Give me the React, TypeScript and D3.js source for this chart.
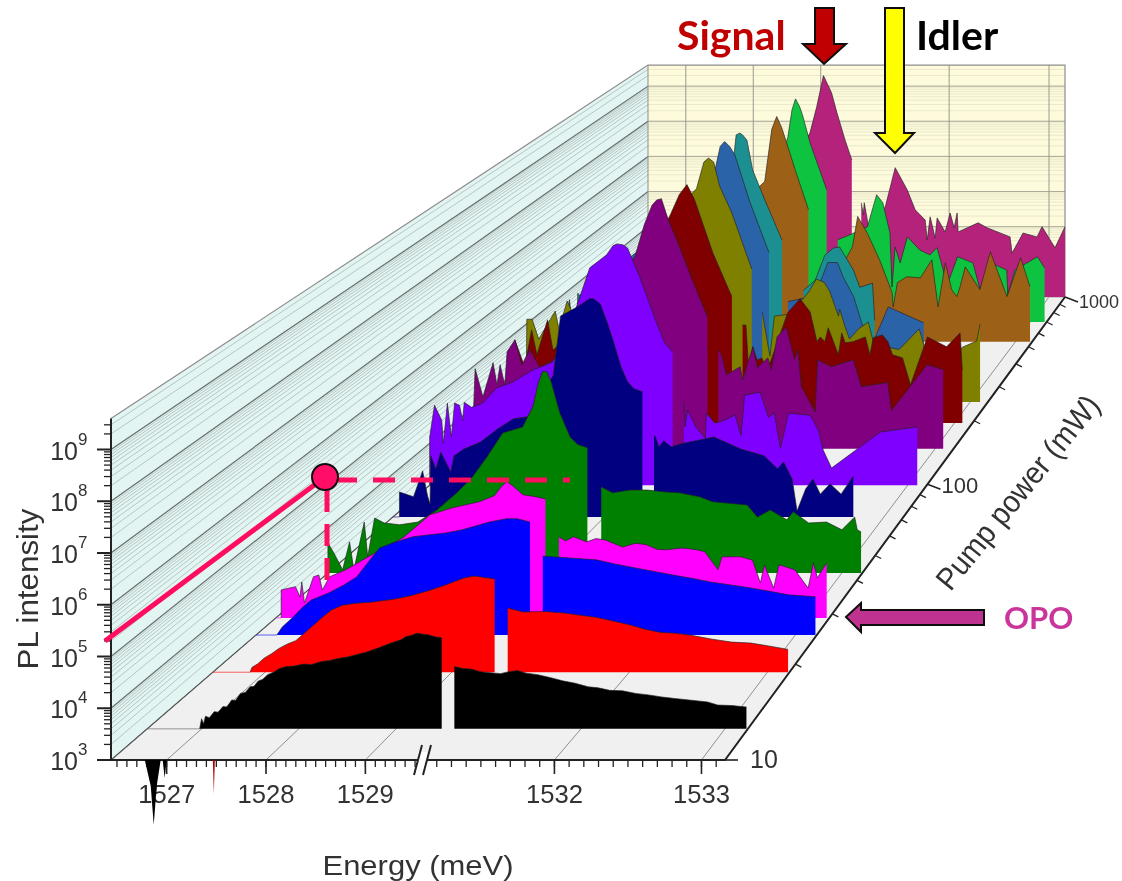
import React from "react";
import * as d3 from "d3";

type P = [number, number];

// [energy meV, log10 PL intensity]
const blackLeft: P[] = [[1526.98,3],[1527.0,3.2],[1527.02,3.1],[1527.04,3.25],[1527.08,3.22],[1527.13,3.34],[1527.17,3.33],[1527.22,3.44],[1527.26,3.43],[1527.31,3.57],[1527.35,3.56],[1527.4,3.7],[1527.45,3.72],[1527.5,3.83],[1527.54,3.84],[1527.58,3.94],[1527.63,3.98],[1527.68,4.07],[1527.75,4.13],[1527.8,4.19],[1527.87,4.23],[1527.95,4.24],[1528.05,4.28],[1528.13,4.27],[1528.23,4.33],[1528.32,4.35],[1528.4,4.39],[1528.5,4.42],[1528.6,4.47],[1528.7,4.52],[1528.82,4.6],[1528.9,4.66],[1528.97,4.71],[1529.05,4.76],[1529.1,4.82],[1529.16,4.85],[1529.22,4.89],[1529.28,4.87],[1529.33,4.86],[1529.4,4.82],[1529.47,4.8]];
const blackRight: P[] = [[1531.12,4.23],[1531.18,4.19],[1531.24,4.18],[1531.3,4.13],[1531.37,4.11],[1531.44,4.09],[1531.5,4.13],[1531.56,4.15],[1531.62,4.1],[1531.7,4.07],[1531.79,4.01],[1531.87,3.95],[1531.96,3.9],[1532.05,3.83],[1532.12,3.81],[1532.2,3.76],[1532.29,3.75],[1532.38,3.7],[1532.47,3.67],[1532.56,3.63],[1532.65,3.6],[1532.75,3.57],[1532.88,3.53],[1532.95,3.47],[1533.05,3.46],[1533.15,3.43]];
const redLeft: P[] = [[1526.84,3],[1526.86,3.1],[1526.92,3.17],[1526.99,3.29],[1527.07,3.38],[1527.15,3.49],[1527.24,3.58],[1527.33,3.65],[1527.42,3.8],[1527.52,3.97],[1527.62,4.14],[1527.71,4.28],[1527.83,4.38],[1527.98,4.42],[1528.13,4.44],[1528.25,4.47],[1528.37,4.5],[1528.55,4.57],[1528.74,4.67],[1528.94,4.8],[1529.13,4.94],[1529.24,4.98],[1529.35,4.95],[1529.46,4.92]];
const redRight: P[] = [[1531.12,4.32],[1531.23,4.24],[1531.38,4.25],[1531.53,4.22],[1531.65,4.17],[1531.76,4.13],[1531.89,4.05],[1532.01,3.97],[1532.12,3.88],[1532.23,3.82],[1532.34,3.8],[1532.45,3.76],[1532.6,3.68],[1532.74,3.62],[1532.88,3.6],[1533.01,3.54],[1533.15,3.47]];
const blueLeft: P[] = [[1526.67,3],[1526.73,3.17],[1526.85,3.38],[1526.95,3.58],[1527.05,3.74],[1527.24,3.89],[1527.4,4.05],[1527.55,4.23],[1527.68,4.55],[1527.8,4.84],[1527.95,4.95],[1528.17,5.08],[1528.35,5.12],[1528.53,5.16],[1528.7,5.22],[1528.83,5.29],[1529.01,5.39],[1529.2,5.46],[1529.32,5.46],[1529.46,5.39]];
const blueRight: P[] = [[1531.12,4.67],[1531.32,4.63],[1531.52,4.59],[1531.66,4.5],[1531.81,4.42],[1532.09,4.27],[1532.23,4.2],[1532.37,4.12],[1532.52,4.06],[1532.66,4.0],[1532.8,3.93],[1532.95,3.85],[1533.15,3.81]];
const magentaLeft: P[] = [[1526.5,3],[1526.5,3.6],[1526.66,3.67],[1526.71,3.45],[1526.73,3.77],[1526.76,3.32],[1526.86,3.88],[1526.92,3.92],[1526.96,3.6],[1527.04,3.88],[1527.22,4.03],[1527.49,4.33],[1527.86,4.72],[1528.16,5.21],[1528.41,5.36],[1528.71,5.49],[1528.88,5.62],[1528.96,5.82],[1529.02,5.92],[1529.08,5.84],[1529.2,5.64],[1529.33,5.6],[1529.45,5.55]];
const magentaRight: P[] = [[1531.12,4.74],[1531.17,4.65],[1531.23,4.74],[1531.33,4.63],[1531.4,4.7],[1531.47,4.67],[1531.6,4.52],[1531.7,4.6],[1531.78,4.57],[1531.86,4.47],[1531.93,4.46],[1532.05,4.5],[1532.16,4.46],[1532.22,4.42],[1532.32,4.03],[1532.35,4.31],[1532.49,4.31],[1532.58,4.24],[1532.64,3.75],[1532.67,4.14],[1532.74,3.64],[1532.78,4.14],[1532.9,4.03],[1533.0,3.64],[1533.04,4.18],[1533.07,3.86],[1533.14,4.18]];
const greenLeft: P[] = [[1526.44,3],[1526.44,3.67],[1526.51,3.44],[1526.61,3.07],[1526.69,3.69],[1526.74,3.07],[1526.86,4.13],[1526.9,3.36],[1526.98,4.22],[1527.09,4.11],[1527.27,4.07],[1527.48,4.13],[1527.7,4.4],[1527.93,4.78],[1528.11,5.13],[1528.28,5.58],[1528.46,6.11],[1528.69,6.24],[1528.81,6.69],[1528.87,7.2],[1528.92,7.47],[1528.97,7.47],[1529.02,7.25],[1529.12,6.56],[1529.24,6.02],[1529.33,5.85],[1529.44,5.78]];
const greenRight: P[] = [[1531.12,4.91],[1531.21,4.78],[1531.34,4.84],[1531.48,4.84],[1531.62,4.8],[1531.73,4.78],[1531.89,4.69],[1531.99,4.58],[1532.26,4.51],[1532.34,4.24],[1532.44,4.4],[1532.57,4.18],[1532.62,4.36],[1532.74,4.11],[1532.88,4.13],[1533.0,3.96],[1533.1,4.24],[1533.12,3.96],[1533.15,3.91]];
const navyLeft: P[] = [[1526.52,3],[1526.52,3.58],[1526.69,3.47],[1526.8,4.07],[1526.86,3.49],[1526.89,3.3],[1526.9,4.42],[1526.96,4.12],[1527.02,4.51],[1527.14,4.05],[1527.18,4.42],[1527.3,4.58],[1527.5,4.74],[1527.71,5.05],[1527.9,5.28],[1528.07,5.33],[1528.23,5.86],[1528.38,6.28],[1528.47,7.67],[1528.67,7.88],[1528.82,8.07],[1528.87,8.07],[1528.95,7.95],[1529.03,7.55],[1529.11,7.07],[1529.2,6.5],[1529.28,6.14],[1529.36,5.98],[1529.46,5.91]];
const navyRight: P[] = [[1531.12,4.88],[1531.13,4.88],[1531.16,4.63],[1531.2,4.77],[1531.26,4.63],[1531.34,4.7],[1531.61,4.86],[1531.83,4.58],[1532.02,4.42],[1532.13,4.12],[1532.18,4.28],[1532.25,3.88],[1532.29,3.14],[1532.36,3.65],[1532.42,3.88],[1532.48,3.53],[1532.56,3.77],[1532.65,3.53],[1532.75,3.95]];
const violetLeft: P[] = [[1526.44,3],[1526.44,4.15],[1526.5,4.91],[1526.59,4.55],[1526.61,4.0],[1526.66,4.96],[1526.71,4.15],[1526.75,4.96],[1526.81,4.91],[1526.85,4.55],[1526.87,4.98],[1526.96,4.86],[1527.1,4.96],[1527.27,5.32],[1527.47,5.46],[1527.72,5.75],[1527.97,5.94],[1528.12,6.58],[1528.26,7.23],[1528.43,8.19],[1528.64,8.5],[1528.72,8.72],[1528.77,8.76],[1528.84,8.74],[1528.9,8.66],[1529.05,7.97],[1529.26,6.87],[1529.36,6.4],[1529.46,6.18]];
const violetRight: P[] = [[1531.12,4.98],[1531.13,4.39],[1531.15,4.79],[1531.22,4.39],[1531.3,4.12],[1531.31,4.72],[1531.38,4.48],[1531.46,4.55],[1531.51,4.62],[1531.55,4.67],[1531.6,4.19],[1531.63,5.15],[1531.76,5.22],[1531.83,4.62],[1531.88,4.72],[1531.93,3.88],[1532.0,4.72],[1532.18,4.67],[1532.25,4.31],[1532.29,3.84],[1532.36,3.41],[1532.77,4.27],[1533.08,4.39]];
const purpleLeft: P[] = [[1526.44,3],[1526.48,4.97],[1526.58,4.28],[1526.71,5.12],[1526.76,4.58],[1526.8,5.07],[1526.86,4.58],[1526.89,5.39],[1526.99,5.68],[1527.08,5.07],[1527.18,5.44],[1527.31,5.0],[1527.5,5.19],[1527.82,6.05],[1528.08,6.67],[1528.31,7.36],[1528.53,7.73],[1528.65,8.52],[1528.75,9.0],[1528.81,9.13],[1528.87,9.16],[1528.95,8.69],[1529.1,7.98],[1529.29,7.04],[1529.46,6.25]];
const purpleRight: P[] = [[1531.12,5.44],[1531.15,5.29],[1531.19,4.82],[1531.31,5.02],[1531.33,4.7],[1531.42,5.51],[1531.46,5.0],[1531.55,5.24],[1531.58,4.95],[1531.63,5.76],[1531.71,6.0],[1531.78,5.19],[1531.81,5.44],[1531.84,4.53],[1531.96,3.91],[1531.98,5.19],[1532.1,5.02],[1532.29,5.19],[1532.36,4.53],[1532.59,4.63],[1532.62,3.94],[1532.93,5.07],[1533.07,4.95]];
const darkRedLeft: P[] = [[1526.44,3],[1526.54,4.21],[1526.61,5.1],[1526.74,4.41],[1526.83,5.35],[1526.9,4.72],[1527.04,5.6],[1527.11,4.84],[1527.27,5.1],[1527.59,5.73],[1527.99,6.48],[1528.38,7.49],[1528.64,8.2],[1528.77,8.76],[1528.87,9.01],[1528.97,8.63],[1529.21,7.29],[1529.46,6.18]];
const darkRedRight: P[] = [[1531.12,5.47],[1531.15,5.47],[1531.18,4.11],[1531.21,4.92],[1531.25,4.59],[1531.29,4.64],[1531.34,4.34],[1531.38,4.64],[1531.52,5.78],[1531.63,6.13],[1531.72,5.8],[1531.78,5.05],[1531.81,5.17],[1531.85,5.05],[1531.88,5.4],[1531.97,4.72],[1532.0,5.27],[1532.03,5.02],[1532.1,5.05],[1532.21,5.17],[1532.25,4.72],[1532.28,5.15],[1532.36,5.22],[1532.41,5.05],[1532.45,4.72],[1532.54,4.64],[1532.61,3.96],[1532.76,5.17],[1532.93,4.92],[1533.05,5.27],[1533.07,4.34]];
const oliveLeft: P[] = [[1526.44,3],[1526.45,5.13],[1526.52,5.13],[1526.61,4.62],[1526.83,5.34],[1526.88,4.88],[1526.99,5.6],[1527.05,5.34],[1527.46,5.78],[1527.99,6.68],[1528.52,8.09],[1528.72,8.48],[1528.82,9.17],[1528.88,9.27],[1528.95,9.17],[1529.03,8.55],[1529.19,7.88],[1529.46,6.42]];
const oliveRight: P[] = [[1531.12,5.31],[1531.19,4.18],[1531.23,5.21],[1531.37,5.26],[1531.54,5.83],[1531.61,6.16],[1531.68,6.08],[1531.73,5.85],[1531.81,5.21],[1531.82,5.39],[1531.87,4.93],[1531.91,4.62],[1531.99,4.88],[1532.08,5.06],[1532.13,4.49],[1532.34,4.36],[1532.36,4.36],[1532.54,4.88],[1532.58,4.49],[1532.65,3.46],[1532.93,4.41],[1533.06,4.57],[1533.09,5.0]];
const steelLeft: P[] = [[1526.44,3],[1526.6,4.98],[1526.64,4.32],[1526.75,5.11],[1527.57,6.3],[1528.39,7.88],[1528.6,8.41],[1528.67,9.02],[1528.73,9.15],[1528.8,9.02],[1528.87,8.8],[1529.08,7.54],[1529.34,6.22]];
const steelRight: P[] = [[1531.12,4.93],[1531.28,5.03],[1531.37,5.11],[1531.44,5.59],[1531.49,5.96],[1531.58,5.96],[1531.63,5.59],[1531.73,5.06],[1531.88,3.66],[1532.05,4.79],[1532.38,4.37]];
const tealLeft: P[] = [[1526.44,3],[1526.45,4.74],[1526.62,4.42],[1527.32,5.36],[1528.15,7.24],[1528.63,8.44],[1528.66,8.98],[1528.71,9.03],[1528.75,8.98],[1528.81,8.84],[1528.89,8.04],[1529.06,7.24],[1529.3,6.16]];
const tealRight: P[] = [[1531.12,4.82],[1531.23,5.09],[1531.32,5.76],[1531.4,5.95],[1531.46,5.98],[1531.59,5.36],[1531.65,4.9],[1531.77,5.01],[1531.79,4.02]];
const brownLeft: P[] = [[1526.44,3],[1526.5,4.14],[1527.2,4.96],[1527.91,5.78],[1528.48,6.73],[1528.83,7.36],[1528.93,8.78],[1529.0,9.13],[1529.07,8.83],[1529.14,8.42],[1529.26,7.69],[1529.45,6.6]];
const brownRight: P[] = [[1531.12,4.14],[1531.27,4.69],[1531.44,5.59],[1531.49,6.41],[1531.58,5.97],[1531.7,5.23],[1531.82,4.34],[1531.83,3.95],[1531.87,4.61],[1531.96,4.77],[1532.09,4.74],[1532.2,5.23],[1532.26,3.95],[1532.33,5.15],[1532.39,4.42],[1532.44,4.23],[1532.47,4.5],[1532.52,5.04],[1532.66,4.42],[1532.76,5.45],[1532.92,4.23],[1533.05,5.29],[1533.14,4.5]];
const limeLeft: P[] = [[1526.44,3],[1526.53,3.89],[1527.32,4.72],[1528.18,5.56],[1528.76,7.22],[1528.88,8.14],[1528.94,8.89],[1528.99,9.19],[1529.05,8.97],[1529.09,8.75],[1529.2,7.97],[1529.44,6.67]];
const limeRight: P[] = [[1531.12,5.28],[1531.24,5.42],[1531.41,5.64],[1531.5,6.53],[1531.56,6.31],[1531.63,5.47],[1531.65,3.97],[1531.68,5.08],[1531.73,4.64],[1531.8,5.36],[1531.92,5.0],[1532.02,4.86],[1532.09,5.06],[1532.19,4.03],[1532.29,4.81],[1532.44,4.64],[1532.51,3.89],[1532.61,4.64],[1532.77,4.44],[1532.78,3.75],[1532.85,4.44],[1533.07,4.81],[1533.14,4.5]];
const plumLeft: P[] = [[1526.44,3],[1527.21,3.91],[1527.95,5.19],[1528.54,6.62],[1528.84,7.67],[1528.94,8.41],[1529.04,9.3],[1529.16,8.81],[1529.24,8.24],[1529.36,7.47],[1529.46,6.9]];
const plumRight: P[] = [[1531.12,5.68],[1531.14,5.34],[1531.15,5.68],[1531.19,5.05],[1531.36,5.56],[1531.46,6.68],[1531.58,6.05],[1531.66,5.48],[1531.76,5.19],[1531.78,4.62],[1531.81,5.28],[1531.86,4.68],[1531.88,5.25],[1531.96,4.85],[1532.01,5.39],[1532.05,4.97],[1532.08,5.39],[1532.09,4.85],[1532.29,5.11],[1532.38,4.97],[1532.61,4.71],[1532.63,4.25],[1532.74,4.82],[1532.88,4.71],[1532.93,5.0],[1533.06,4.4],[1533.16,5.0]];

const blackDip: P[] = [[1526.78,3],[1526.84,2.5],[1526.87,1.75],[1526.9,2.5],[1526.94,3],[1526.96,3],[1526.98,2.65],[1527.0,3]];
const redDip: P[] = [[1527.465,3],[1527.475,2.35],[1527.485,3]];

const pumpPowers = [12.4, 18.8, 25.2, 29, 42.7, 72, 99, 146, 195, 249, 348, 430, 534, 700, 1000];
const seriesColors = ["#000000", "#ff0000", "#0000ff", "#ff00ff", "#008000", "#000080", "#8000ff", "#800080", "#800000", "#808000", "#2b63a8", "#1f9090", "#9c6118", "#11c340", "#b5247c"];
const leftLobes = [blackLeft, redLeft, blueLeft, magentaLeft, greenLeft, navyLeft, violetLeft, purpleLeft, darkRedLeft, oliveLeft, steelLeft, tealLeft, brownLeft, limeLeft, plumLeft];
const rightLobes = [blackRight, redRight, blueRight, magentaRight, greenRight, navyRight, violetRight, purpleRight, darkRedRight, oliveRight, steelRight, tealRight, brownRight, limeRight, plumRight];

const energyTicks = [1527, 1528, 1529, 1532, 1533];
const decades = [3, 4, 5, 6, 7, 8, 9];
const pumpTicks = [10, 100, 1000];
const pumpLabelSize = [25, 22, 18];
const pumpMinor = [20, 30, 40, 50, 60, 70, 80, 90, 200, 300, 400, 500, 600, 700, 800, 900];

// projection
const energyFrac = d3.scaleLinear().domain([1526.44, 1529.6, 1531.12, 1533.16]).range([0, 0.5114, 0.5114, 1]);
const depth = d3.scaleLog().domain([10, 1000]).range([0, 1]);
const W0 = 614, W1 = 417, Y0 = 760, Y1 = 297, X0 = 111, X1 = 648;
const invW = d3.scaleLinear().domain([0, 1]).range([1 / W0, 1 / W1]);
const height = d3.scaleLinear().domain([3, 9]).range([0, 310.5]);
const TOP = 9.6;

function proj(e: number, p: number, L: number): [number, number] {
  const w = 1 / invW(depth(p));
  const t = (w - W1) / (W0 - W1);
  const yb = Y1 + t * (Y0 - Y1);
  const xl = X1 + t * (X0 - X1);
  return [xl + energyFrac(e) * w, yb - height(L) * (w / W0)];
}

const line = d3.line<[number, number]>();
const TXT = "#333";
const SANS = "'Liberation Sans', Arial, sans-serif";

function lobePaths(lobe: P[], p: number) {
  const area = d3.area<P>()
    .x((d) => proj(d[0], p, d[1])[0])
    .y0((d) => proj(d[0], p, 3)[1])
    .y1((d) => proj(d[0], p, d[1])[1]);
  const top = d3.line<P>()
    .x((d) => proj(d[0], p, d[1])[0])
    .y((d) => proj(d[0], p, d[1])[1]);
  return { fill: area(lobe) || "", top: top(lobe) || "" };
}

function minorLogs(): number[] {
  const out: number[] = [];
  for (let k = 3; k < 10; k++) {
    for (let m = 1; m < 10; m++) {
      const v = k + Math.log10(m);
      if (v <= TOP) out.push(v);
    }
  }
  return out;
}

export default function App() {
  const logs = minorLogs();
  const corners = {
    a: proj(1526.44, 10, 3), b: proj(1533.16, 10, 3),
    c: proj(1533.16, 1000, 3), d: proj(1526.44, 1000, 3),
    e: proj(1526.44, 10, TOP), f: proj(1526.44, 1000, TOP), g: proj(1533.16, 1000, TOP),
  };
  const allTicks: number[] = [];
  for (let t = 1526.5; t < 1529.55; t += 0.1) allTicks.push(+t.toFixed(1));
  for (let t = 1531.2; t < 1533.15; t += 0.1) allTicks.push(+t.toFixed(1));
  const order = d3.range(pumpPowers.length).reverse();
  return (
    <svg width={1122} height={881} style={{ position: "absolute", left: 0, top: 0, display: "block" }} fontFamily={SANS}>
      <defs>
        <filter id="soft" x="0" y="0" width="100%" height="100%" filterUnits="objectBoundingBox">
          <feGaussianBlur stdDeviation={0.55} />
        </filter>
      </defs>
      <rect width={1122} height={881} fill="#fff" />
      <g filter="url(#soft)">
        <rect width={1122} height={881} fill="#fff" />
        {/* floor */}
        <path d={line([corners.a, corners.b, corners.c, corners.d])! + "Z"} fill="#f0f0f0" />
        {energyTicks.map((e) => (
          <path key={e} d={line([proj(e, 10, 3), proj(e, 1000, 3)])!} stroke="#8f8f8f" strokeWidth={1} fill="none" />
        ))}
        {/* left wall */}
        <path d={line([corners.a, corners.e, corners.f, corners.d])! + "Z"} fill="#e3f5f3" />
        {logs.map((v) => (
          <path key={"lw" + v} d={line([proj(1526.44, 10, v), proj(1526.44, 1000, v)])!} stroke="#b6c6c3" strokeWidth={1} fill="none" />
        ))}
        {decades.map((v) => (
          <path key={"lwd" + v} d={line([proj(1526.44, 10, v), proj(1526.44, 1000, v)])!} stroke="#6a7270" strokeWidth={1.2} fill="none" />
        ))}
        {/* back wall */}
        <path d={line([corners.d, corners.f, corners.g, corners.c])! + "Z"} fill="#fdfbdc" />
        {logs.map((v) => (
          <path key={"bw" + v} d={line([proj(1526.44, 1000, v), proj(1533.16, 1000, v)])!} stroke="#e6e3c8" strokeWidth={0.8} fill="none" />
        ))}
        {decades.map((v) => (
          <path key={"bwd" + v} d={line([proj(1526.44, 1000, v), proj(1533.16, 1000, v)])!} stroke="#aaa99a" strokeWidth={1} fill="none" />
        ))}
        {energyTicks.map((e) => (
          <path key={"bv" + e} d={line([proj(e, 1000, 3), proj(e, 1000, TOP)])!} stroke="#9a9a8e" strokeWidth={1} fill="none" />
        ))}
        <path d={line([corners.e, corners.f, corners.g, corners.c])!} stroke="#8d8d8d" strokeWidth={1.2} fill="none" />
        <path d={line([corners.f, corners.d])!} stroke="#8d8d8d" strokeWidth={1} fill="none" />
        <path d={line([corners.a, corners.d])!} stroke="#555" strokeWidth={1} fill="none" />

        {/* spectra */}
        {order.map((i) => {
          const p = pumpPowers[i];
          const c = seriesColors[i];
          const l = lobePaths(leftLobes[i], p);
          const r = lobePaths(rightLobes[i], p);
          return (
            <g key={i}>
              <path d={line([proj(1526.44, p, 3), proj(leftLobes[i][0][0], p, 3)])!} stroke={i === 0 ? "#555" : c} strokeOpacity={0.6} strokeWidth={1} fill="none" />
              <path d={l.fill} fill={c} />
              <path d={r.fill} fill={c} />
              <path d={l.top} fill="none" stroke="#222" strokeOpacity={0.65} strokeWidth={1} />
              <path d={r.top} fill="none" stroke="#222" strokeOpacity={0.65} strokeWidth={1} />
            </g>
          );
        })}

        {/* axes */}
        <path d={line([corners.e, corners.a, corners.b, corners.c])!} stroke="#222" strokeWidth={2} fill="none" />
        {logs.map((v) => {
          const major = Math.abs(v - Math.round(v)) < 1e-6;
          const [x, y] = proj(1526.44, 10, v);
          return <line key={"yt" + v} x1={x - (major ? 14 : 7)} x2={x} y1={y} y2={y} stroke="#222" strokeWidth={major ? 2 : 1.3} />;
        })}
        {decades.map((v) => {
          const [, y] = proj(1526.44, 10, v);
          return (
            <g key={"yl" + v} fill={TXT}>
              <text x={78} y={y + 10} fontSize={25} textAnchor="end">10</text>
              <text x={78} y={y - 5} fontSize={17}>{v}</text>
            </g>
          );
        })}
        {allTicks.map((t) => {
          const [x, y] = proj(t, 10, 3);
          return <line key={"xt" + t} x1={x} x2={x} y1={y} y2={y + 7} stroke="#222" strokeWidth={1.3} />;
        })}
        {energyTicks.map((e) => {
          const [x, y] = proj(e, 10, 3);
          return (
            <g key={"xl" + e}>
              <line x1={x} x2={x} y1={y} y2={y + 14} stroke="#222" strokeWidth={1.6} />
              <text x={x} y={y + 43} fontSize={25} textAnchor="middle" textLength={57} lengthAdjust="spacingAndGlyphs" fill={TXT}>{e}</text>
            </g>
          );
        })}
        <rect x={418} y={752} width={9} height={16} fill="#fff" />
        <path d="M414 775L422 745M423 775L431 745" stroke="#222" strokeWidth={2} fill="none" />
        {/* dips below the floor */}
        {[{ d: blackDip, c: "#000" }, { d: redDip, c: "#a00" }].map((s, i) => (
          <path
            key={"dip" + i}
            d={d3.area<P>().x((q) => proj(q[0], 10, 3)[0]).y0(proj(1527, 10, 3)[1]).y1((q) => proj(q[0], 10, q[1])[1])(s.d) || ""}
            fill={s.c}
          />
        ))}
        {pumpMinor.map((p) => {
          const [x, y] = proj(1533.16, p, 3);
          return <line key={"pm" + p} x1={x} x2={x + 6} y1={y} y2={y + 3} stroke="#222" strokeWidth={1.3} />;
        })}
        {pumpTicks.map((p, i) => {
          const [x, y] = proj(1533.16, p, 3);
          return (
            <g key={"pt" + p}>
              <line x1={x} x2={x + 13} y1={y} y2={y + (p === 10 ? 0 : 5)} stroke="#222" strokeWidth={1.6} />
              <text x={x + (p === 10 ? 25 : 14)} y={y + (p === 1000 ? 11 : p === 100 ? 9 : 8)} fontSize={pumpLabelSize[i]} fill={TXT}>{p}</text>
            </g>
          );
        })}
        <text transform="translate(38,589) rotate(-90)" fontSize={30} textAnchor="middle" textLength={161} lengthAdjust="spacingAndGlyphs" fill={TXT}>PL intensity</text>
        <text x={418} y={875} fontSize={28} textAnchor="middle" textLength={191} lengthAdjust="spacingAndGlyphs" fill={TXT}>Energy (meV)</text>
        <text transform="translate(1026,499) rotate(-51)" fontSize={31} textAnchor="middle" textLength={240} lengthAdjust="spacingAndGlyphs" fill={TXT}>Pump power (mW)</text>

        {/* annotations */}
        <path d="M105 641L325 477" stroke="#ff0a5e" strokeWidth={5} fill="none" />
        <path d="M335 480H570" stroke="#ff0a5e" strokeWidth={5} strokeDasharray="22 16" fill="none" />
        <path d="M327 490V592" stroke="#ff0a5e" strokeWidth={5} strokeDasharray="22 12" fill="none" />
        <circle cx={325} cy={477} r={13} fill="#ff0a66" stroke="#111" strokeWidth={2} />
        <path d="M815 8H834V44H846L824 64L803 44H815Z" fill="#c00000" stroke="#111" strokeWidth={2} />
        <path d="M885 8H904V133H914L895 153L875 133H885Z" fill="#ffff00" stroke="#111" strokeWidth={2} />
        <path d="M846 617L861 603V610H984V625H861V632Z" fill="#c0328f" stroke="#111" strokeWidth={2} />
        <g fontFamily="Lato, sans-serif" fontWeight={700}>
          <text x={677} y={50} fontSize={41} fill="#c00000">Signal</text>
          <text x={916} y={50} fontSize={41} fill="#000">Idler</text>
          <text x={1004} y={629} fontSize={31} fill="#c9359a">OPO</text>
        </g>
      </g>
    </svg>
  );
}
